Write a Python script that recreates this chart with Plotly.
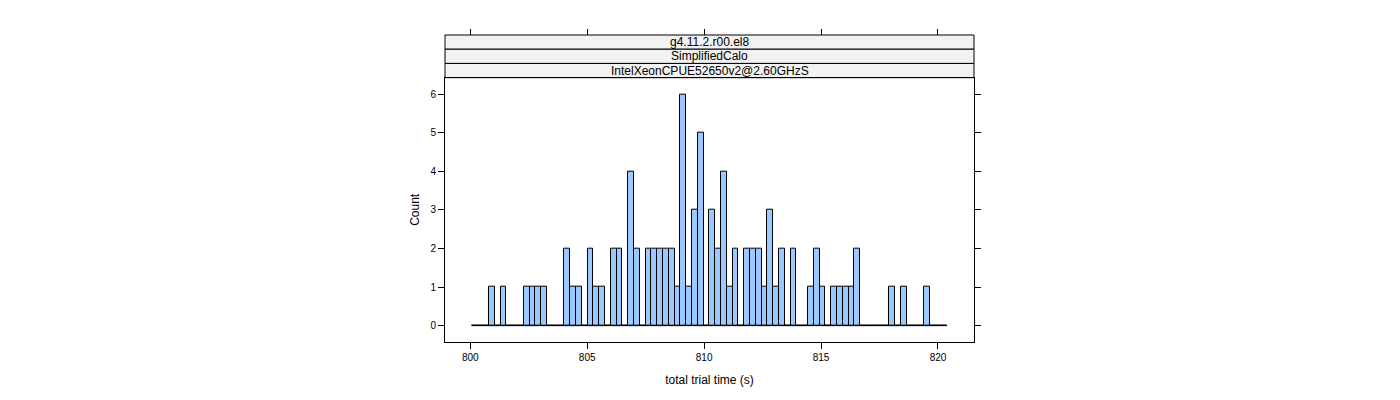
import numpy as np
import plotly.graph_objects as go

# histogram data (counts per bin)
x_min = 800.06
x_max = 820.39
counts = [0, 0, 0, 1, 0, 1, 0, 0, 0, 1, 1, 1, 1, 0, 0, 0, 2, 1, 1, 0,
          2, 1, 1, 0, 2, 2, 0, 4, 2, 0, 2, 2, 2, 2, 2, 1, 6, 1, 3, 5,
          0, 3, 2, 4, 1, 2, 0, 2, 2, 2, 1, 3, 1, 2, 0, 2, 0, 0, 1, 2,
          1, 0, 1, 1, 1, 1, 2, 0, 0, 0, 0, 0, 1, 0, 1, 0, 0, 0, 1, 0,
          0, 0]
x_ticks = [800, 805, 810, 815, 820]
y_ticks = [0, 1, 2, 3, 4, 5, 6]
strip_labels = ["g4.11.2.r00.el8", "SimplifiedCalo", "IntelXeonCPUE52650v2@2.60GHzS"]

breaks = np.linspace(x_min, x_max, len(counts) + 1)
centers = (breaks[:-1] + breaks[1:]) / 2
bin_w = breaks[1] - breaks[0]

FONT = "Liberation Sans, Arial, sans-serif"
x_range = [798.92, 821.54]
y_range = [-0.424, 6.43]

fig = go.Figure()
fig.add_trace(go.Bar(
    x=centers, y=counts, width=bin_w,
    marker=dict(color="#99C9FF", line=dict(color="black", width=1)),
    hoverinfo="x+y", showlegend=False,
))
# lattice draws every bin, so empty bins show up as a baseline
fig.add_trace(go.Scatter(
    x=[breaks[0], breaks[-1]], y=[0, 0], mode="lines",
    line=dict(color="black", width=1), xaxis="x2",
    hoverinfo="skip", showlegend=False,
))

# panel top and strip layout in paper coords
panel_top = 0.861
strip_h = (1 - panel_top) / len(strip_labels)
for i, lab in enumerate(strip_labels):
    y1 = 1 - i * strip_h
    y0 = y1 - strip_h
    fig.add_shape(type="rect", xref="paper", yref="paper", x0=0, x1=1, y0=y0, y1=y1,
                  fillcolor="#F2F2F2", line=dict(color="black", width=1), layer="below")
    fig.add_annotation(text=lab, xref="paper", yref="paper", x=0.5, y=(y0 + y1) / 2,
                       showarrow=False, font=dict(size=12, color="black", family=FONT),
                       yanchor="middle", yshift=0)

# page body adds an 8px offset, margins account for it
fig.update_layout(
    width=1400, height=400,
    margin=dict(l=437, r=434, t=27, b=66),
    plot_bgcolor="white", paper_bgcolor="white",
    bargap=0,
    font=dict(family=FONT, color="black"),
    xaxis=dict(
        range=x_range, domain=[0, 1], anchor="y",
        tickvals=x_ticks, ticks="outside", ticklen=6, tickcolor="black",
        showline=True, linecolor="black", linewidth=1, mirror=True,
        showgrid=False, zeroline=False, tickfont=dict(size=10),
        title=dict(text="total trial time (s)", font=dict(size=12), standoff=13),
    ),
    xaxis2=dict(
        range=x_range, overlaying="x", side="top", anchor="free", position=1,
        tickvals=x_ticks, ticks="outside", ticklen=6, tickcolor="black",
        showticklabels=False, showline=False, showgrid=False, zeroline=False,
    ),
    yaxis=dict(
        range=y_range, domain=[0, panel_top],
        tickvals=y_ticks, ticks="outside", ticklen=6, tickcolor="black",
        showline=True, linecolor="black", linewidth=1, mirror="ticks",
        showgrid=False, zeroline=False, tickfont=dict(size=10),
        title=dict(text="Count", font=dict(size=12), standoff=8),
    ),
)

fig.write_html("out.html")
